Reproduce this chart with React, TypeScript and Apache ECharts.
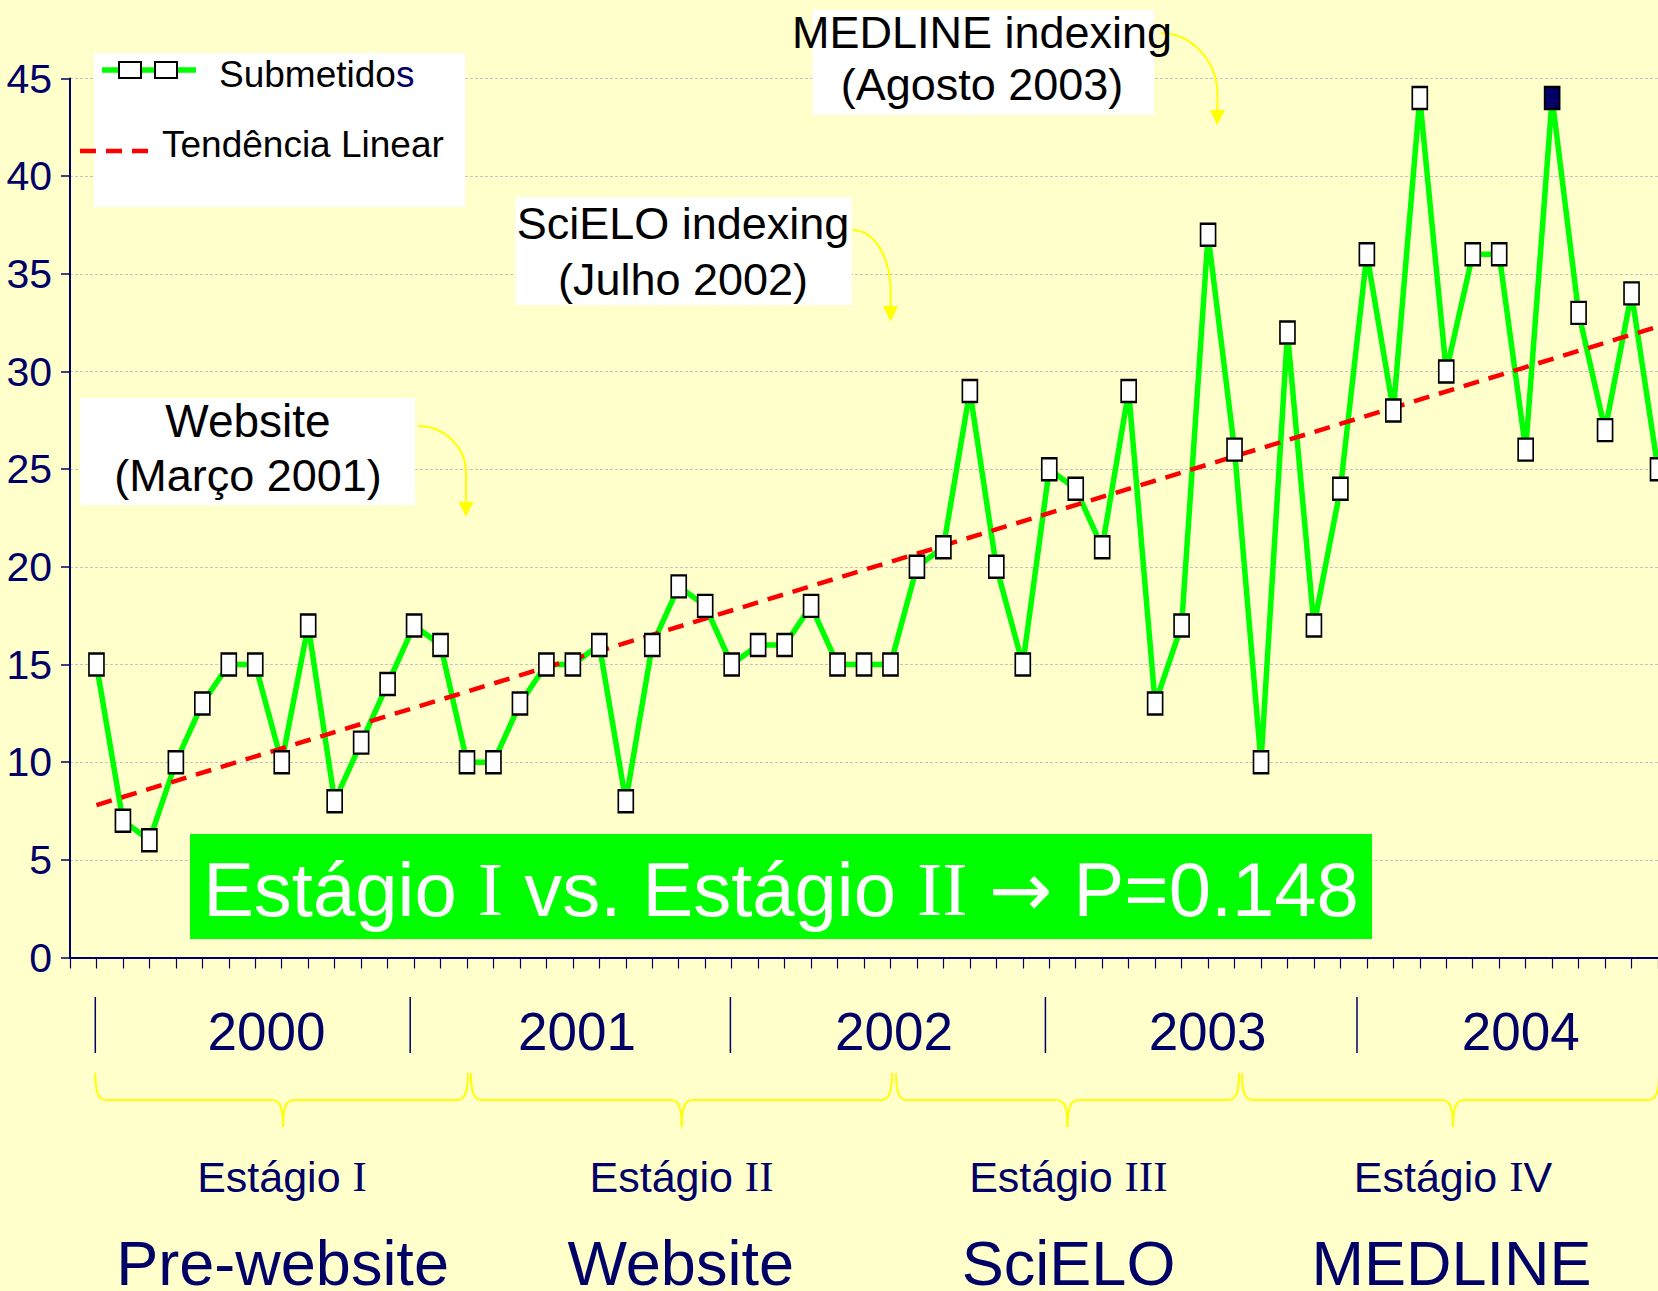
import React, { useEffect, useRef } from 'react';
import * as echarts from 'echarts';

// ---------- data ----------
const submetidos = [
  15, 7, 6, 10, 13, 15, 15, 10, 17, 8,
  11, 14, 17, 16, 10, 10, 13, 15, 15, 16,
  8, 16, 19, 18, 15, 16, 16, 18, 15, 15,
  15, 20, 21, 29, 20, 15, 25, 24, 21, 29,
  13, 17, 37, 26, 10, 32, 17, 24, 36, 28,
  44, 30, 36, 36, 26, 44, 33, 27, 34, 25,
];
const highlightedMonth = 56; // 1-based month drawn with a dark marker
const trendMonths = [1, 60];
const trendValues = [7.8, 32.3];
const legendNames = ['Submetidos', 'Tendência Linear'];
const yearLabels = ['2000', '2001', '2002', '2003', '2004'];
const stageWords = ['Estágio', 'Estágio', 'Estágio', 'Estágio'];
const stageNumerals = ['I', 'II', 'III', 'IV'];
const stageNames = ['Pre-website', 'Website', 'SciELO', 'MEDLINE'];
const annotationLines = [
  ['Website', '(Março 2001)'],
  ['SciELO indexing', '(Julho 2002)'],
  ['MEDLINE indexing', '(Agosto 2003)'],
];
const pValueText = ['Estágio ', 'I', ' vs. Estágio ', 'II', ' ', '→', ' P=0.148'];

// ---------- styles / layout ----------
const NAVY = '#000066';
const BG = '#FFFFCC';
const GREEN = '#00FF00';
const RED = '#FF0000';
const YELLOW = '#FFFF00';
const FONT = '"Liberation Sans", Arial, sans-serif';
const SERIF = '"Liberation Serif", "Times New Roman", serif';
const ARROWFONT = '"DejaVu Sans", sans-serif';

const annotationBoxes = [
  { x: 80, y: 398, w: 335, h: 107, cx: 248, y1: 420.6, y2: 475.6, s1: 46, s2: 45 },
  { x: 515.5, y: 197, w: 336, h: 108, cx: 683, y1: 223.5, y2: 279.2, s1: 45, s2: 45 },
  { x: 812.5, y: 10, w: 341.5, h: 105, cx: 982, y1: 32.5, y2: 84.2, s1: 45, s2: 45 },
];
const arrowsGeom = [
  { xs: 418, ys: 426, xe: 466, yc: 473, yh: 501.7, yt: 516.7 },
  { xs: 852.7, ys: 230, xe: 890.6, yc: 290, yh: 306, yt: 321.7 },
  { xs: 1161, ys: 33.3, xe: 1217.4, yc: 95, yh: 110, yt: 125 },
];
const yearSepX = [95.3, 410.2, 730.4, 1045.4, 1357];
const yearX = [266.5, 577, 894, 1207.6, 1520.7];
const braceGeom = [
  [95.3, 283, 468],
  [471, 681.7, 892],
  [896, 1067.6, 1239],
  [1242, 1453, 1659],
];
const stageX = [282, 681.5, 1068.3, 1453];
const stageNameX = [282.6, 680.7, 1068.6, 1451.6];

function textEl(x: number, y: number, text: string, fontSize: number, fill: string, align = 'center', extra: any = {}) {
  return {
    type: 'text',
    x,
    y,
    z: 102,
    style: {
      text,
      fill,
      fontSize,
      fontFamily: FONT,
      textAlign: align,
      textVerticalAlign: 'middle',
      align,
      verticalAlign: 'middle',
      ...extra,
    },
  };
}

function braceEls(x1: number, xm: number, x2: number) {
  const yT = 1073, yM = 1100, yB = 1127, r = 11;
  const s = { stroke: YELLOW, lineWidth: 2, fill: 'none' };
  return [
    { type: 'bezierCurve', z: 101, shape: { x1, y1: yT, cpx1: x1, cpy1: yT + (yM - yT) * 0.75, cpx2: x1 + r * 0.3, cpy2: yM, x2: x1 + r, y2: yM }, style: s },
    { type: 'line', z: 101, shape: { x1: x1 + r, y1: yM, x2: xm - r, y2: yM }, style: s },
    { type: 'bezierCurve', z: 101, shape: { x1: xm - r, y1: yM, cpx1: xm - r * 0.3, cpy1: yM, cpx2: xm, cpy2: yM + (yB - yM) * 0.25, x2: xm, y2: yB }, style: s },
    { type: 'bezierCurve', z: 101, shape: { x1: xm, y1: yB, cpx1: xm, cpy1: yM + (yB - yM) * 0.25, cpx2: xm + r * 0.3, cpy2: yM, x2: xm + r, y2: yM }, style: s },
    { type: 'line', z: 101, shape: { x1: xm + r, y1: yM, x2: x2 - r, y2: yM }, style: s },
    { type: 'bezierCurve', z: 101, shape: { x1: x2 - r, y1: yM, cpx1: x2 - r * 0.3, cpy1: yM, cpx2: x2, cpy2: yT + (yM - yT) * 0.75, x2, y2: yT }, style: s },
  ];
}

function arrowEls(a: any) {
  return [
    {
      type: 'bezierCurve', z: 101,
      shape: { x1: a.xs, y1: a.ys, cpx1: a.xs + (a.xe - a.xs) * 0.55, cpy1: a.ys, cpx2: a.xe, cpy2: a.yc - (a.yc - a.ys) * 0.55, x2: a.xe, y2: a.yc },
      style: { stroke: YELLOW, lineWidth: 2, fill: 'none' },
    },
    { type: 'line', z: 101, shape: { x1: a.xe, y1: a.yc, x2: a.xe, y2: a.yh }, style: { stroke: YELLOW, lineWidth: 2 } },
    { type: 'polygon', z: 101, shape: { points: [[a.xe - 7.5, a.yh], [a.xe + 7.5, a.yh], [a.xe, a.yt]] }, style: { fill: YELLOW } },
  ];
}

function buildOption() {
  const lineData = submetidos.map((v, i) => [i + 1, v]);
  const markerData = submetidos.map((v, i) =>
    i + 1 === highlightedMonth ? { value: [i + 1, v], itemStyle: { color: NAVY } } : [i + 1, v]
  );
  const trendData = trendValues.map((v, i) => [trendMonths[i], v]);

  const graphic: any[] = [];

  // legend
  graphic.push({ type: 'rect', z: 100, shape: { x: 94, y: 53, width: 371, height: 154 }, style: { fill: '#FFFFFF' } });
  graphic.push({ type: 'line', z: 101, shape: { x1: 102, y1: 70, x2: 196, y2: 70 }, style: { stroke: GREEN, lineWidth: 5.5 } });
  graphic.push({ type: 'rect', z: 102, shape: { x: 119, y: 62, width: 22, height: 16 }, style: { fill: '#FFFFFF', stroke: '#000000', lineWidth: 2 } });
  graphic.push({ type: 'rect', z: 102, shape: { x: 155, y: 62, width: 22, height: 16 }, style: { fill: '#FFFFFF', stroke: '#000000', lineWidth: 2 } });
  const n0 = legendNames[0];
  graphic.push(textEl(219, 74, '{a|' + n0.slice(0, -1) + '}{b|' + n0.slice(-1) + '}', 37, '#000000', 'left', {
    rich: {
      a: { fontSize: 37, fontFamily: FONT, fill: '#000000' },
      b: { fontSize: 37, fontFamily: FONT, fill: NAVY },
    },
  }));
  graphic.push({ type: 'line', z: 101, shape: { x1: 80, y1: 151, x2: 148, y2: 151 }, style: { stroke: RED, lineWidth: 4.5, lineDash: [16, 10] } });
  graphic.push(textEl(162, 144, legendNames[1], 37, '#000000', 'left'));

  // annotation boxes + arrows
  annotationBoxes.forEach((b, i) => {
    graphic.push({ type: 'rect', z: 100, shape: { x: b.x, y: b.y, width: b.w, height: b.h }, style: { fill: '#FFFFFF' } });
    graphic.push(textEl(b.cx, b.y1, annotationLines[i][0], b.s1, '#000000'));
    graphic.push(textEl(b.cx, b.y2, annotationLines[i][1], b.s2, '#000000'));
  });
  arrowsGeom.forEach((a) => graphic.push(...arrowEls(a)));

  // green P-value box
  graphic.push({ type: 'rect', z: 100, shape: { x: 190, y: 834, width: 1182, height: 105 }, style: { fill: GREEN } });
  const pRich = pValueText
    .map((t, i) => {
      if (t === '→') return '{w|' + t + '}';
      return i === 1 || i === 3 ? '{r|' + t + '}' : '{a|' + t + '}';
    })
    .join('');
  graphic.push(textEl(781, 889, pRich, 76, '#FFFFFF', 'center', {
    rich: {
      a: { fontSize: 76, fontFamily: FONT, fill: '#FFFFFF' },
      r: { fontSize: 76, fontFamily: SERIF, fill: '#FFFFFF' },
      w: { fontSize: 76, fontFamily: ARROWFONT, fill: '#FFFFFF' },
    },
  }));

  // year row
  yearSepX.forEach((x) => {
    graphic.push({ type: 'line', z: 101, shape: { x1: x, y1: 997, x2: x, y2: 1053 }, style: { stroke: NAVY, lineWidth: 1.5 } });
  });
  yearLabels.forEach((y, i) => graphic.push(textEl(yearX[i], 1031, y, 53, NAVY)));

  // braces
  braceGeom.forEach((g) => graphic.push(...braceEls(g[0], g[1], g[2])));

  // stage labels
  stageWords.forEach((w, i) => {
    const num = stageNumerals[i];
    const parts = num.split('V');
    let rich = '{a|' + w + ' }' + '{r|' + parts[0] + '}';
    if (num.includes('V')) rich += '{a|V}';
    graphic.push(textEl(stageX[i], 1176.6, rich, 43, NAVY, 'center', {
      rich: {
        a: { fontSize: 43, fontFamily: FONT, fill: NAVY },
        r: { fontSize: 43, fontFamily: SERIF, fill: NAVY },
      },
    }));
  });
  stageNames.forEach((n, i) => graphic.push(textEl(stageNameX[i], 1263, n, 63, NAVY)));

  return {
    animation: false,
    backgroundColor: BG,
    grid: { left: 70, top: 78.5, right: 0, height: 879, containLabel: false },
    xAxis: {
      type: 'value',
      min: 0,
      max: 60,
      interval: 1,
      axisLine: { show: true, onZero: false, lineStyle: { color: NAVY, width: 2 } },
      axisTick: { show: true, length: 11, lineStyle: { color: NAVY, width: 1.2 } },
      axisLabel: { show: false },
      splitLine: { show: false },
    },
    yAxis: {
      type: 'value',
      min: 0,
      max: 45,
      interval: 5,
      axisLine: { show: true, lineStyle: { color: NAVY, width: 2 } },
      axisTick: { show: true, length: 9, lineStyle: { color: NAVY, width: 1.5 } },
      axisLabel: { color: NAVY, fontSize: 41, fontFamily: FONT, margin: 18 },
      splitLine: { show: true, lineStyle: { color: '#C4C4C4', width: 1, type: [3, 2] } },
    },
    series: [
      {
        type: 'line',
        name: legendNames[0],
        data: lineData,
        symbol: 'none',
        showSymbol: false,
        lineStyle: { color: GREEN, width: 5.5, join: 'miter', miterLimit: 10 },
        z: 2,
        silent: true,
      },
      {
        type: 'line',
        name: legendNames[1],
        data: trendData,
        symbol: 'none',
        showSymbol: false,
        lineStyle: { color: RED, width: 4.5, type: [16, 10] },
        z: 3,
        silent: true,
      },
      {
        type: 'scatter',
        name: legendNames[0] + ' markers',
        data: markerData,
        symbol: 'rect',
        symbolSize: [15, 22],
        itemStyle: { color: '#FFFFFF', borderColor: '#000000', borderWidth: 2, opacity: 1 },
        z: 4,
        silent: true,
      },
    ],
    graphic: { elements: graphic },
  };
}

export default function App() {
  const ref = useRef<HTMLDivElement>(null);
  useEffect(() => {
    document.body.style.margin = '0';
    const chart = echarts.init(ref.current as HTMLDivElement, null, { renderer: 'svg' });
    chart.setOption(buildOption() as any);
    return () => chart.dispose();
  }, []);
  return (
    <div
      ref={ref}
      style={{ position: 'fixed', left: 0, top: 0, width: 1658, height: 1291, background: BG, overflow: 'hidden' }}
    />
  );
}
